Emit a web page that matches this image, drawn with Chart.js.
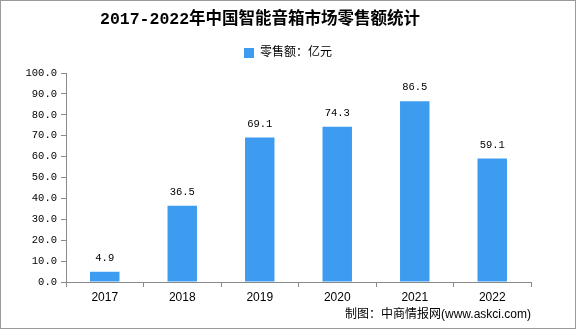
<!DOCTYPE html>
<html>
<head>
<meta charset="utf-8">
<script src="https://cdn.jsdelivr.net/npm/chart.js@4"></script>
<style>
html,body{margin:0;padding:0;background:#fff;}
#wrap{width:576px;height:329px;position:relative;}
</style>
</head>
<body>
<div id="wrap"><canvas id="c" width="576" height="329"></canvas></div>
<script>
const categories = ['2017', '2018', '2019', '2020', '2021', '2022'];
const retailSales = [4.9, 36.5, 69.1, 74.3, 86.5, 59.1];
const seriesName = '零售额：亿元';
const titleText = '2017-2022年中国智能音箱市场零售额统计';
const sourceText = '制图：中商情报网(www.askci.com)';

const BAR = '#3e9cf0';
const AXIS = '#8a8a8a';

const decor = {
  id: 'decor',
  afterDraw(chart) {
    const ctx = chart.ctx;
    ctx.save();
    // value labels
    ctx.font = '10.5px "Liberation Mono", "DejaVu Sans Mono", monospace';
    ctx.fillStyle = '#000';
    ctx.textAlign = 'center';
    ctx.textBaseline = 'middle';
    const meta = chart.getDatasetMeta(0);
    meta.data.forEach((bar, i) => {
      ctx.fillText(retailSales[i].toFixed(1), bar.x, bar.y - 13.5);
    });
    // title
    ctx.font = 'bold 16.5px "Liberation Mono", "Noto Sans CJK SC", sans-serif';
    ctx.textAlign = 'left';
    ctx.fillText(titleText, 100, 20);
    // source
    ctx.font = '12px "Liberation Sans", "Noto Sans CJK SC", sans-serif';
    ctx.textAlign = 'right';
    ctx.fillText(sourceText, 531, 315);
    // frame
    ctx.strokeStyle = '#9a9a9a';
    ctx.lineWidth = 1;
    ctx.strokeRect(0.5, 0.5, 575, 328);
    ctx.restore();
  }
};

new Chart(document.getElementById('c'), {
  type: 'bar',
  data: {
    labels: categories,
    datasets: [{
      label: seriesName,
      data: retailSales,
      backgroundColor: BAR,
      borderWidth: 0,
      barPercentage: 0.38,
      categoryPercentage: 1
    }]
  },
  options: {
    responsive: false,
    animation: false,
    events: [],
    layout: { padding: { left: 0, right: 0, top: 37, bottom: 25 } },
    plugins: {
      title: { display: false },
      subtitle: {
        display: true,
        text: '',
        weight: 500,
        font: { size: 1, lineHeight: 1 },
        padding: { top: 0, bottom: 3 }
      },
      tooltip: { enabled: false },
      legend: {
        display: true,
        position: 'top',
        labels: {
          boxWidth: 10,
          boxHeight: 10,
          padding: 10,
          color: '#000',
          font: { size: 12, family: '"Liberation Sans", "Noto Sans CJK SC", sans-serif' }
        }
      }
    },
    scales: {
      x: {
        offset: true,
        grid: { display: true, offset: true, drawOnChartArea: false, drawTicks: true, tickLength: 5, color: AXIS },
        border: { display: true, color: AXIS, width: 1 },
        ticks: { color: '#000', padding: 3, font: { size: 12, family: '"Liberation Sans", sans-serif' }, maxRotation: 0 },
        afterFit(scale) { scale.height = 22; scale.paddingRight = 45; }
      },
      y: {
        min: 0,
        max: 100,
        grid: { display: true, drawOnChartArea: false, drawTicks: true, tickLength: 5, color: AXIS },
        border: { display: true, color: AXIS, width: 1 },
        ticks: {
          stepSize: 10,
          color: '#000',
          padding: 4,
          font: { size: 10.5, family: '"Liberation Mono", "DejaVu Sans Mono", monospace' },
          callback: (v) => Number(v).toFixed(1)
        },
        afterFit(scale) { scale.width = 66; }
      }
    }
  },
  plugins: [decor]
});
</script>
</body>
</html>
